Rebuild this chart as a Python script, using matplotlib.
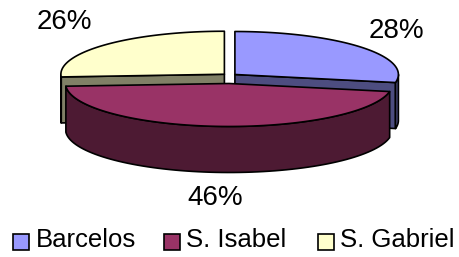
import numpy as np
import matplotlib
matplotlib.use("Agg")
import matplotlib.pyplot as plt
from matplotlib.patches import Polygon, Rectangle

# ---- data ----
categories = ["Barcelos", "S. Isabel", "S. Gabriel"]
values = [28, 46, 26]
top_colors = ["#9999FF", "#993366", "#FFFFCC"]
side_colors = ["#4D4D80", "#4D1A33", "#808066"]

# ---- geometry (pixel space) ----
W, H = 459, 257
cx, cy = 229.5, 78.0      # pie centre
a, b = 163.5, 43.0        # ellipse semi-axes
h = 46.0                  # thickness
ex, ey = 7.0, 5.5         # explode offsets
start = 90.0
lw = 1.2

fig = plt.figure(figsize=(W / 100, H / 100), dpi=100)
ax = fig.add_axes([0, 0, 1, 1])
ax.set_xlim(0, W)
ax.set_ylim(H, 0)
ax.axis("off")

total = float(sum(values))

def rim(ox, oy, th_deg, dz=0.0):
    t = np.radians(th_deg)
    return (ox + a * np.cos(t), oy - b * np.sin(t) + dz)

def arc(ox, oy, t_from, t_to, dz=0.0, n=80):
    ts = np.linspace(t_from, t_to, n)
    return [rim(ox, oy, t, dz) for t in ts]

slices = []
cum = 0.0
for i, v in enumerate(values):
    t1 = start - cum / total * 360.0
    t2 = t1 - v / total * 360.0
    cum += v
    mid = (t1 + t2) / 2.0
    ox = cx + ex * np.cos(np.radians(mid))
    oy = cy - ey * np.sin(np.radians(mid))
    slices.append((i, t1, t2, mid, ox, oy))

# back slices first
order = sorted(slices, key=lambda s: -np.sin(np.radians(s[3])))

for i, t1, t2, mid, ox, oy in order:
    top_c, side_c = top_colors[i], side_colors[i]
    # radial faces
    for t, nrm in ((t1, t1 + 90.0), (t2, t2 - 90.0)):
        if np.sin(np.radians(nrm)) < -1e-6:
            p = rim(ox, oy, t)
            poly = [(ox, oy), p, (p[0], p[1] + h), (ox, oy + h)]
            ax.add_patch(Polygon(poly, closed=True, facecolor=side_c,
                                 edgecolor="black", lw=lw, joinstyle="round"))
    # outer curved side (front half only)
    for k in (-1, 0, 1):
        lo, hi = k * 360.0 - 180.0, k * 360.0
        s_lo, s_hi = max(t2, lo), min(t1, hi)
        if s_hi - s_lo > 1e-6:
            topa = arc(ox, oy, s_lo, s_hi)
            bota = arc(ox, oy, s_hi, s_lo, dz=h)
            ax.add_patch(Polygon(topa + bota, closed=True, facecolor=side_c,
                                 edgecolor="black", lw=lw, joinstyle="round"))
    # top
    poly = [(ox, oy)] + arc(ox, oy, t1, t2)
    ax.add_patch(Polygon(poly, closed=True, facecolor=top_c,
                         edgecolor="black", lw=lw, joinstyle="round"))

# percentage labels
pct = [f"{v / total * 100:.0f}%" for v in values]
label_pos = [(396.5, 31), (215.5, 198), (64, 22)]
for txt, (x, y) in zip(pct, label_pos):
    ax.text(x, y, txt, ha="center", va="center", fontsize=20,
            family="Liberation Sans", color="black")

# legend
box_x = [13, 164, 318]
text_x = [36, 186, 340]
for i, name in enumerate(categories):
    ax.add_patch(Rectangle((box_x[i], 234), 16, 16, facecolor=top_colors[i],
                           edgecolor="black", lw=1.2))
    ax.text(text_x[i], 247, name, ha="left", va="baseline", fontsize=18.5,
            family="Liberation Sans", color="black")

fig.savefig("out.png", dpi=100)
